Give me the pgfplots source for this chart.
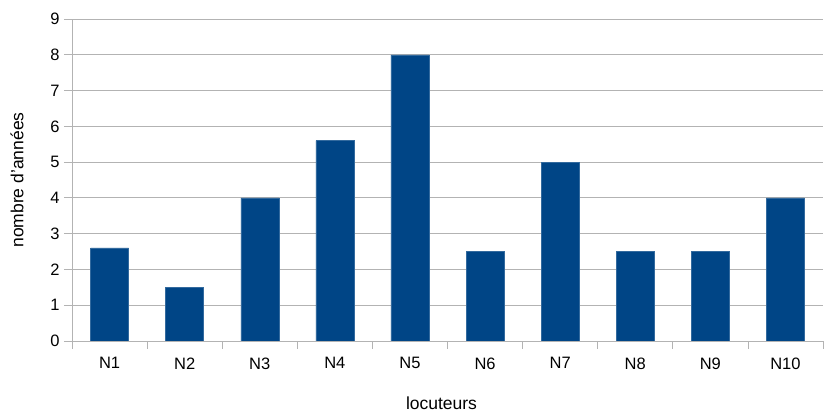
\documentclass[border=0pt]{standalone}
\usepackage{pgfplots}
\pgfplotsset{compat=1.18}
\usepackage{fontspec}
\setmainfont{Liberation Sans}
\definecolor{barblue}{HTML}{004586}
\definecolor{gridgray}{HTML}{B3B3B3}
\begin{document}
\begin{tikzpicture}
\begin{axis}[
  scale only axis, width=751pt, height=322pt,
  xmin=-0.5, xmax=9.5, ymin=0, ymax=9,
  axis lines=left, axis line style={gridgray, -},
  ytick={0,...,9}, ymajorgrids, grid style={gridgray, line width=0.8pt},
  xtick={0,...,9}, xticklabels={N1,N2,N3,N4,N5,N6,N7,N8,N9,N10},
  x tick style={draw=none},
  y tick style={gridgray, line width=0.8pt},
  major tick length=8pt, tick align=outside,
  extra x ticks={-0.5,0.5,...,9.5}, extra x tick labels={},
  extra x tick style={x tick style={draw=gridgray, line width=0.8pt}, grid=none},
  tick label style={font=\fontsize{16.5}{18}\selectfont},
  yticklabel style={xshift=-1pt},
  xticklabel style={yshift=-5pt},
  /pgf/number format/assume math mode=true,
  xlabel={locuteurs}, ylabel={nombre d'années},
  label style={font=\fontsize{17.5}{20}\selectfont},
  xlabel style={at={(axis description cs:0.5,0)}, anchor=center, yshift=-62pt, xshift=-6pt},
  ylabel style={at={(axis description cs:0,0.5)}, anchor=center, yshift=55pt},
  ybar, bar width=38pt,
]
\addplot[fill=barblue, draw=barblue!80!white, line width=0.5pt] coordinates {
  (0,2.6) (1,1.5) (2,4) (3,5.6) (4,8) (5,2.5) (6,5) (7,2.5) (8,2.5) (9,4)
};
\end{axis}
\pgfresetboundingbox
\path (current axis.south west) ++(-72pt,-73pt) rectangle ++(825pt,414pt);
\end{tikzpicture}
\end{document}
